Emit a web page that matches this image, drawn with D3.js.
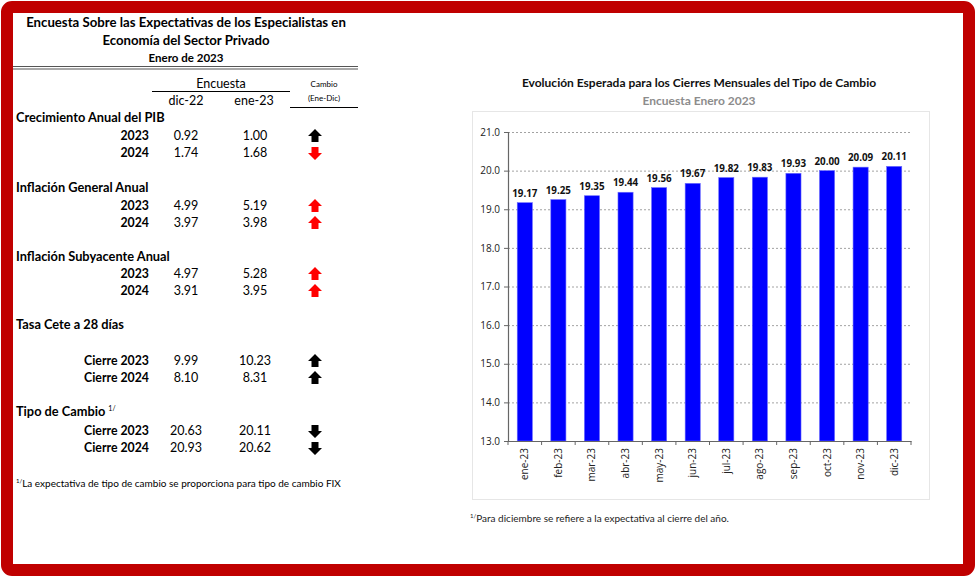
<!DOCTYPE html>
<html><head><meta charset="utf-8">
<script src="https://cdn.jsdelivr.net/npm/d3@7"></script>
<style>
html,body{margin:0;padding:0;background:#fff;}
svg{display:block;}
</style></head>
<body>
<svg id="c" width="977" height="578"></svg>
<script>
// ---------- DATA ----------
const months = ["ene-23","feb-23","mar-23","abr-23","may-23","jun-23","jul-23","ago-23","sep-23","oct-23","nov-23","dic-23"];
const tipoCambio = [19.17,19.25,19.35,19.44,19.56,19.67,19.82,19.83,19.93,20.00,20.09,20.11];
const yTicks = [13,14,15,16,17,18,19,20,21];

const sections = ["Crecimiento Anual del PIB","Inflación General Anual","Inflación Subyacente Anual","Tasa Cete a 28 días","Tipo de Cambio"];
const rowLabels = [["2023","2024"],["2023","2024"],["2023","2024"],["Cierre 2023","Cierre 2024"],["Cierre 2023","Cierre 2024"]];
const dic22 = [[0.92,1.74],[4.99,3.97],[4.97,3.91],[9.99,8.10],[20.63,20.93]];
const ene23 = [[1.00,1.68],[5.19,3.98],[5.28,3.95],[10.23,8.31],[20.11,20.62]];
const arrowColor = [["#000","#ff0000"],["#ff0000","#ff0000"],["#ff0000","#ff0000"],["#000","#000"],["#000","#000"]];

(function(){
const svg = d3.select("#c");
const FT = "Lato, 'Open Sans', sans-serif";

// red frame
svg.append("rect").attr("x",7).attr("y",7).attr("width",962).attr("height",563)
  .attr("rx",5).attr("fill","none").attr("stroke","#c00000").attr("stroke-width",12);

// ---------- LEFT TABLE ----------
const T = svg.append("g").attr("font-family",FT).attr("fill","#000");
T.append("text").attr("x",186).attr("y",27).attr("text-anchor","middle").attr("font-weight","bold").attr("font-size",13.2)
  .text("Encuesta Sobre las Expectativas de los Especialistas en");
T.append("text").attr("x",186).attr("y",45).attr("text-anchor","middle").attr("font-weight","bold").attr("font-size",13.2)
  .text("Economía del Sector Privado");
T.append("text").attr("x",186).attr("y",62).attr("text-anchor","middle").attr("font-weight","bold").attr("font-size",11.5)
  .text("Enero de 2023");
T.append("line").attr("x1",13).attr("x2",358).attr("y1",66.5).attr("y2",66.5).attr("stroke","#555").attr("stroke-width",1.2);
T.append("line").attr("x1",13).attr("x2",358).attr("y1",69).attr("y2",69).attr("stroke","#555").attr("stroke-width",1.2);

T.append("text").attr("x",221).attr("y",88).attr("text-anchor","middle").attr("font-size",12.5).text("Encuesta");
T.append("line").attr("x1",152).attr("x2",290).attr("y1",91.5).attr("y2",91.5).attr("stroke","#000");
T.append("text").attr("x",186).attr("y",105).attr("text-anchor","middle").attr("font-size",12.5).text("dic-22");
T.append("text").attr("x",254).attr("y",105).attr("text-anchor","middle").attr("font-size",12.5).text("ene-23");
T.append("text").attr("x",324).attr("y",87).attr("text-anchor","middle").attr("font-size",8).text("Cambio");
T.append("text").attr("x",324).attr("y",101).attr("text-anchor","middle").attr("font-size",8).text("(Ene-Dic)");
T.append("line").attr("x1",290).attr("x2",358).attr("y1",107.5).attr("y2",107.5).attr("stroke","#000");

const secY = [122,192,261,329,416];
const rowY = [[140,157],[210,227],[278,295],[365,382],[435,452]];
const up = "M0,-7 L7,0 L3.5,0 L3.5,6 L-3.5,6 L-3.5,0 L-7,0 Z";
const down = "M0,7 L7,0 L3.5,0 L3.5,-6 L-3.5,-6 L-3.5,0 L-7,0 Z";

sections.forEach((s,i)=>{
  const t = T.append("text").attr("x",16).attr("y",secY[i]).attr("font-weight","bold").attr("font-size",12.8).text(s);
  if(i===4){ t.append("tspan").attr("font-size",7).attr("font-weight","normal").attr("dx",3).attr("dy",-5).text("1/"); }
  rowLabels[i].forEach((r,j)=>{
    const yy = rowY[i][j];
    T.append("text").attr("x",149).attr("y",yy).attr("text-anchor","end").attr("font-weight","bold").attr("font-size",12.3).text(r);
    T.append("text").attr("x",186).attr("y",yy).attr("text-anchor","middle").attr("font-size",12.5).text(dic22[i][j].toFixed(2));
    T.append("text").attr("x",255).attr("y",yy).attr("text-anchor","middle").attr("font-size",12.5).text(ene23[i][j].toFixed(2));
    const d = ene23[i][j]-dic22[i][j];
    T.append("path").attr("d", d>=0?up:down).attr("transform",`translate(315,${yy-4})`).attr("fill",arrowColor[i][j]);
  });
});
const fn = T.append("text").attr("x",16).attr("y",487).attr("font-size",10);
fn.append("tspan").attr("font-size",6).attr("dy",-4).text("1/");
fn.append("tspan").attr("dy",4).text("La expectativa de tipo de cambio se proporciona para tipo de cambio FIX");

// ---------- RIGHT CHART ----------
const C = svg.append("g");
C.append("text").attr("x",699).attr("y",87).attr("text-anchor","middle").attr("font-family",FT)
  .attr("font-weight","bold").attr("font-size",12).attr("fill","#111")
  .text("Evolución Esperada para los Cierres Mensuales del Tipo de Cambio");
C.append("text").attr("x",699).attr("y",105).attr("text-anchor","middle").attr("font-family",FT)
  .attr("font-weight","bold").attr("font-size",12).attr("fill","#8c8c8c").text("Encuesta Enero 2023");
C.append("rect").attr("x",472.5).attr("y",111.5).attr("width",457).attr("height",388)
  .attr("fill","#fff").attr("stroke","#e6e6e6");

const pl=508, pr=911, pt=132, pb=441;
const x = d3.scaleBand().domain(months).range([pl,pr]).paddingInner(0.55).paddingOuter(0.275);
const y = d3.scaleLinear().domain([13,21]).range([pb,pt]);

// grid
C.append("g").selectAll("line").data(yTicks.filter(v=>v>13)).join("line")
  .attr("x1",pl).attr("x2",pr).attr("y1",d=>y(d)+0.5).attr("y2",d=>y(d)+0.5)
  .attr("stroke","#8a8a8a").attr("stroke-dasharray","2,2").attr("stroke-width",0.8);

// bars
C.append("g").selectAll("rect").data(tipoCambio).join("rect")
  .attr("x",(d,i)=>x(months[i])).attr("width",x.bandwidth())
  .attr("y",d=>y(d)).attr("height",d=>pb-y(d))
  .attr("fill","#0000ff").attr("stroke","#6a6aff").attr("stroke-width",0.6);

// value labels
C.append("g").selectAll("text").data(tipoCambio).join("text")
  .attr("x",(d,i)=>x(months[i])+x.bandwidth()/2).attr("y",d=>y(d)-6)
  .attr("text-anchor","middle").attr("font-family","'Open Sans', sans-serif").attr("font-weight","bold")
  .attr("font-size",9.8).attr("fill","#111").text(d=>d.toFixed(2));

// y axis
const ya = C.append("g").attr("transform",`translate(${pl},0)`)
  .call(d3.axisLeft(y).tickValues(yTicks).tickSize(4).tickFormat(d3.format(".1f")));
ya.select(".domain").attr("stroke","#666").attr("stroke-width",1.2);
ya.selectAll(".tick line").attr("stroke","#666");
ya.selectAll("text").attr("font-family","'Open Sans', sans-serif").attr("font-size",10).attr("fill","#222").attr("dx",-1);

// x axis
const xa = C.append("g").attr("transform",`translate(0,${pb})`)
  .call(d3.axisBottom(x).tickSize(0).tickSizeOuter(0));
xa.select(".domain").attr("stroke","#666").attr("stroke-width",1.2);
xa.selectAll(".tick text").attr("font-family","'Open Sans', sans-serif").attr("font-size",10).attr("fill","#222")
  .attr("transform","rotate(-90)").attr("text-anchor","end").attr("x",-7).attr("y",0).attr("dy","0.35em");
// boundary ticks
const bounds = months.map(m=>x(m)-x.step()*x.paddingInner()/2).concat([pr]);
C.append("g").selectAll("line").data(bounds).join("line")
  .attr("x1",d=>d).attr("x2",d=>d).attr("y1",pb).attr("y2",pb+4).attr("stroke","#666");

const fn2 = C.append("text").attr("x",470).attr("y",522).attr("font-family",FT).attr("font-size",10).attr("fill","#222");
fn2.append("tspan").attr("font-size",6).attr("dy",-4).text("1/");
fn2.append("tspan").attr("dy",4).text("Para diciembre se refiere a la expectativa al cierre del año.");
})();
</script>
</body></html>
